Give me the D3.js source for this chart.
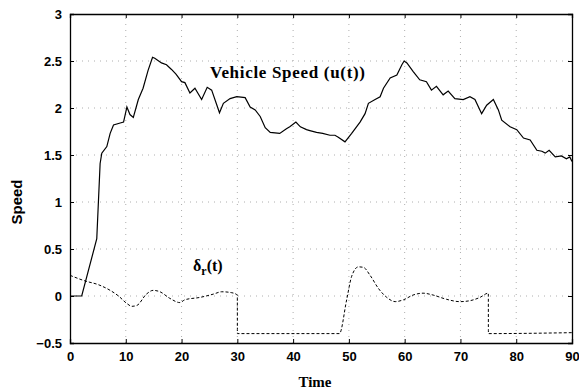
<!DOCTYPE html>
<html><head><meta charset="utf-8">
<script src="https://cdn.jsdelivr.net/npm/d3@7"></script>
<style>body{margin:0;background:#fff}svg{display:block}</style>
</head><body>
<script>
const xTicks = [0,10,20,30,40,50,60,70,80,90];
const yTicks = [-0.5,0,0.5,1,1.5,2,2.5,3];
const yTickLabels = ["\u22120.5","0","0.5","1","1.5","2","2.5","3"];

const speedT = [0,2.1,4.8,5.4,5.7,6.6,7.2,7.8,9.0,9.6,10.2,10.75,11.35,12.25,13.1,14.0,14.8,15.2,16.4,17.3,18.2,19.0,20.0,20.6,21.5,22.4,23.6,24.6,25.4,26.8,27.5,28.7,29.9,31.4,32.3,33.2,34.1,35.0,35.9,37.6,38.8,39.4,40.5,41.3,42.4,43.0,44.2,45.3,46.6,47.5,48.1,49.3,50.5,52.0,52.9,53.5,54.7,55.6,56.2,57.4,58.6,59.5,59.9,60.4,61.5,62.7,63.9,64.8,65.7,66.9,67.8,69.0,70.5,71.7,72.6,73.8,74.7,75.9,76.8,77.4,78.9,80.1,81.3,82.5,83.7,84.6,85.2,85.9,87.0,88.1,89.0,89.6,90];
const speedV = [0,0,0.61,1.41,1.52,1.59,1.73,1.82,1.84,1.85,2.01,1.93,1.90,2.09,2.21,2.40,2.54,2.53,2.48,2.46,2.41,2.36,2.28,2.27,2.16,2.21,2.09,2.22,2.19,1.95,2.05,2.10,2.12,2.11,2.01,1.98,1.91,1.79,1.74,1.73,1.78,1.80,1.85,1.80,1.77,1.76,1.74,1.73,1.71,1.71,1.69,1.64,1.73,1.85,1.94,2.05,2.09,2.12,2.21,2.32,2.35,2.46,2.50,2.48,2.39,2.30,2.28,2.19,2.23,2.14,2.18,2.10,2.09,2.12,2.09,1.94,2.03,2.09,1.98,1.87,1.80,1.77,1.68,1.66,1.55,1.54,1.52,1.55,1.48,1.49,1.46,1.48,1.43];

const deltaT = [0,2.7,5.1,7.2,8.7,10.2,11.1,12.0,13.7,14.9,16.1,17.9,19.7,20.6,23.3,25.7,27.2,29.0,30,30.01,48.3,49.6,50.5,51.7,52.6,53.8,55.3,56.8,58.3,59.8,61.5,63.3,65.1,67.5,69.9,71.7,73.5,75,75.01,90];
const deltaV = [0.22,0.16,0.12,0.06,0.0,-0.08,-0.11,-0.10,0.02,0.06,0.046,-0.025,-0.07,-0.04,-0.015,0.02,0.045,0.035,0.01,-0.40,-0.40,-0.04,0.21,0.31,0.305,0.22,0.08,-0.015,-0.06,-0.04,0.01,0.03,0.01,-0.035,-0.06,-0.05,-0.015,0.03,-0.40,-0.39];

const W = 579, H = 390;
const m = {l:70, r:7, t:14, b:47};
const svg = d3.select("body").append("svg").attr("width",W).attr("height",H);
const x = d3.scaleLinear().domain([0,90]).range([m.l, W-m.r]);
const y = d3.scaleLinear().domain([-0.5,3]).range([H-m.b, m.t]);

// grid
const g = svg.append("g");
g.selectAll(".gx").data(xTicks.slice(1,-1)).join("line")
  .attr("x1",d=>x(d)).attr("x2",d=>x(d)).attr("y1",y(-0.5)).attr("y2",y(3))
  .attr("stroke","#999").attr("stroke-width",0.8).attr("stroke-dasharray","1,5");
g.selectAll(".gy").data(yTicks.slice(1,-1)).join("line")
  .attr("y1",d=>y(d)).attr("y2",d=>y(d)).attr("x1",x(0)).attr("x2",x(90))
  .attr("stroke","#999").attr("stroke-width",0.8).attr("stroke-dasharray","1,5");

// axes
const font = "'Liberation Sans', Arial, sans-serif";
const xa = svg.append("g").attr("transform",`translate(0,${y(-0.5)})`)
  .call(d3.axisBottom(x).tickValues(xTicks).tickSize(-4).tickPadding(9).tickFormat(d3.format("d")));
const xt = svg.append("g").attr("transform",`translate(0,${y(3)})`)
  .call(d3.axisTop(x).tickValues(xTicks).tickSize(-4).tickFormat(""));
const ya = svg.append("g").attr("transform",`translate(${x(0)},0)`)
  .call(d3.axisLeft(y).tickValues(yTicks).tickSize(-4).tickPadding(8).tickFormat((d,i)=>yTickLabels[i]));
const yr = svg.append("g").attr("transform",`translate(${x(90)},0)`)
  .call(d3.axisRight(y).tickValues(yTicks).tickSize(-4).tickFormat(""));
[xa,xt,ya,yr].forEach(a=>{
  a.select(".domain").attr("stroke","#000").attr("stroke-width",1.3);
  a.selectAll(".tick line").attr("stroke","#000").attr("stroke-width",1);
  a.selectAll("text").attr("font-family",font).attr("font-weight","bold").attr("font-size","13px").attr("fill","#000");
});

// lines
const speedData = speedT.map((t,i)=>[t,speedV[i]]);
const deltaData = deltaT.map((t,i)=>[t,deltaV[i]]);
svg.append("path").datum(speedData)
  .attr("d", d3.line().x(d=>x(d[0])).y(d=>y(d[1])))
  .attr("fill","none").attr("stroke","#000").attr("stroke-width",1.2);
svg.append("path").datum(deltaData)
  .attr("d", d3.line().x(d=>x(d[0])).y(d=>y(d[1])).curve(d3.curveMonotoneX))
  .attr("fill","none").attr("stroke","#000").attr("stroke-width",1).attr("stroke-dasharray","3,2");

// labels
const serif = "'Liberation Serif', 'DejaVu Serif', serif";
svg.append("text").attr("x",210).attr("y",78).attr("font-family",serif).attr("font-weight","bold")
  .attr("font-size","17px").attr("textLength",155).attr("lengthAdjust","spacing").text("Vehicle Speed (u(t))");
const dl = svg.append("text").attr("x",193).attr("y",271).attr("font-family",serif).attr("font-weight","bold").attr("font-size","16px");
dl.append("tspan").text("\u03b4");
dl.append("tspan").attr("dy",4).attr("font-size","12px").text("r");
dl.append("tspan").attr("dy",-4).text("(t)");
svg.append("text").attr("x",315).attr("y",387).attr("text-anchor","middle").attr("font-family",serif)
  .attr("font-weight","bold").attr("font-size","15px").text("Time");
svg.append("text").attr("transform","translate(22,202) rotate(-90)").attr("text-anchor","middle")
  .attr("font-family",font).attr("font-weight","bold").attr("font-size","15px").text("Speed");
</script>
</body></html>
